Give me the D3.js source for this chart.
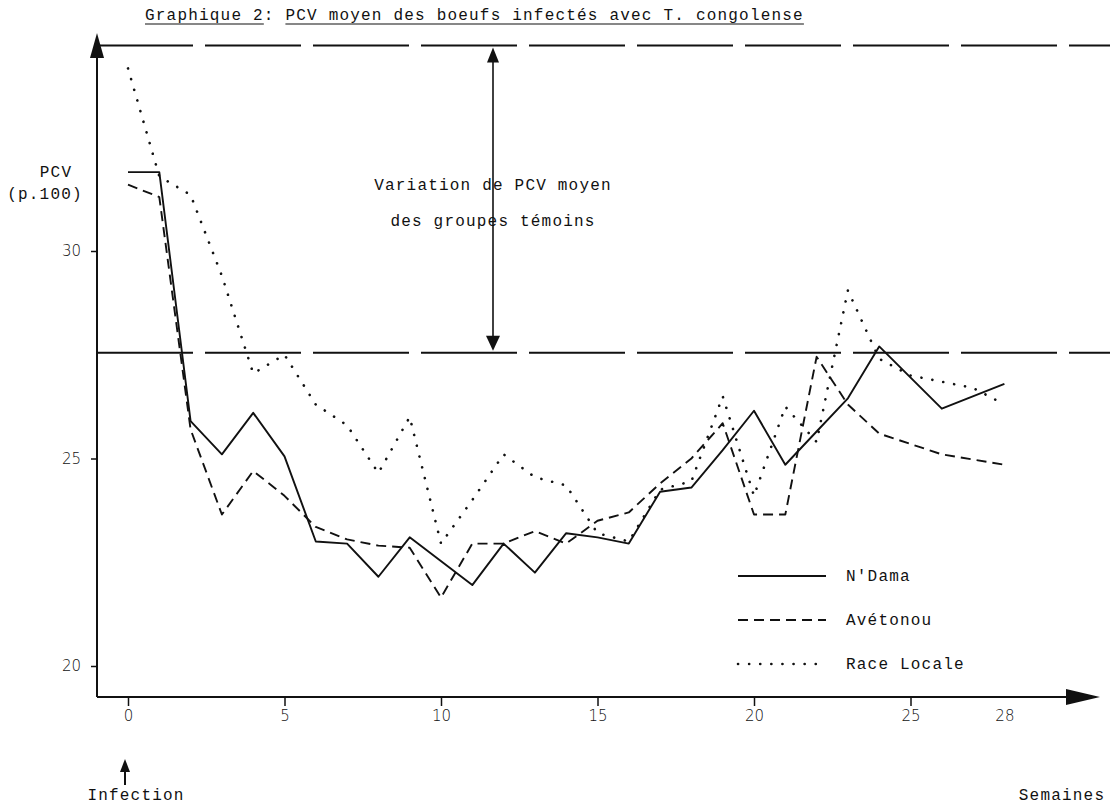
<!DOCTYPE html>
<html>
<head>
<meta charset="utf-8">
<script src="https://cdn.jsdelivr.net/npm/d3@7"></script>
<style>
  body { margin: 0; background: #fff; }
  text { fill: #111; }
  .mono { font-family: "Liberation Mono", "DejaVu Sans Mono", monospace; font-size: 16px; letter-spacing: 1.2px; }
  .num { font-family: "DejaVu Sans", sans-serif; font-size: 15px; font-weight: 300; }
</style>
</head>
<body>
<div id="chart"></div>
<script>
var width = 1110, height = 807;

// semaines
var weeks = [0, 1, 2, 3, 4, 5, 6, 7, 8, 9, 10, 11, 12, 13, 14,
             15, 16, 17, 18, 19, 20, 21, 22, 23, 24, 25, 26, 27, 28];

// PCV moyen (p.100) par groupe, null = pas de point
var nDama      = [31.9, 31.9, 25.9, 25.1, 26.1, 25.05, 23.0, 22.95, 22.15, 23.1, null, 21.95, 22.95, 22.25, 23.2,
                  23.1, 22.95, 24.2, 24.3, 25.2, 26.15, 24.85, 25.65, 26.45, 27.7, null, 26.2, null, 26.8];
var avetonou   = [31.6, 31.3, 25.7, 23.65, 24.7, 24.1, 23.35, 23.05, 22.9, 22.85, 21.65, 22.95, 22.95, 23.25, 22.95,
                  23.5, 23.7, 24.4, 25.0, 25.85, 23.65, 23.65, 27.45, 26.3, 25.6, null, 25.1, null, 24.85];
var raceLocale = [34.4, 31.8, 31.35, 29.4, 27.05, 27.5, 26.3, 25.8, 24.65, 26.0, 22.95, 24.0, 25.1, 24.55, 24.35,
                  23.2, 23.0, 24.25, 24.45, 26.5, 24.1, 26.25, 25.4, 29.05, 27.4, 27.0, 26.85, 26.7, 26.3];

var seriesNames = ["N'Dama", "Avétonou", "Race Locale"];

var xTicks = [0, 5, 10, 15, 20, 25, 28];
var yTicks = [20, 25, 30];

// PCV moyen des groupes témoins (haut et bas de la variation)
var refLevels = [34.95, 27.55];

var svg = d3.select("#chart").append("svg")
    .attr("width", width)
    .attr("height", height);

var x = d3.scaleLinear().domain([0, 28]).range([128, 1004.4]);
var y = d3.scaleLinear().domain([20, 30]).range([666, 251]);

var axisX = 97, axisY = 697;

// axes
svg.append("line")
    .attr("x1", axisX).attr("x2", 1072)
    .attr("y1", axisY).attr("y2", axisY)
    .attr("stroke", "#111").attr("stroke-width", 2);
svg.append("path")
    .attr("d", "M1100," + axisY + "L1066," + (axisY - 8) + "L1066," + (axisY + 8) + "Z")
    .attr("fill", "#111");

svg.append("line")
    .attr("x1", axisX).attr("x2", axisX)
    .attr("y1", axisY).attr("y2", 56)
    .attr("stroke", "#111").attr("stroke-width", 2);
svg.append("path")
    .attr("d", "M" + axisX + ",33L" + (axisX - 7) + ",58L" + (axisX + 7) + ",58Z")
    .attr("fill", "#111");

var yAxis = svg.append("g")
    .attr("transform", "translate(" + axisX + ",0)")
    .call(d3.axisLeft(y).tickValues(yTicks).tickSize(6).tickPadding(10));
yAxis.select(".domain").remove();
yAxis.selectAll("line").attr("stroke", "#111").attr("stroke-width", 1.5);
yAxis.selectAll("text").attr("class", "num").attr("fill", "#111").attr("font-family", null).attr("font-size", null);

var xAxis = svg.append("g")
    .attr("transform", "translate(0," + axisY + ")")
    .call(d3.axisBottom(x).tickValues(xTicks).tickSize(9).tickPadding(4));
xAxis.select(".domain").remove();
xAxis.selectAll("line").attr("stroke", "#111").attr("stroke-width", 1.5)
    .attr("opacity", function(d) { return d === 28 ? 0 : 1; });
xAxis.selectAll("text").attr("class", "num").attr("fill", "#111").attr("font-family", null).attr("font-size", null);

// lignes de reference
svg.selectAll(".ref")
    .data(refLevels)
    .enter().append("line")
    .attr("class", "ref")
    .attr("x1", axisX).attr("x2", width)
    .attr("y1", function(d) { return y(d); })
    .attr("y2", function(d) { return y(d); })
    .attr("stroke", "#111").attr("stroke-width", 2)
    .attr("stroke-dasharray", "96,12");

// double fleche
var ax = 493, yTop = y(refLevels[0]), yBot = y(refLevels[1]);
svg.append("line")
    .attr("x1", ax).attr("x2", ax)
    .attr("y1", yTop + 12).attr("y2", yBot - 12)
    .attr("stroke", "#111").attr("stroke-width", 1.6);
svg.append("path")
    .attr("d", "M" + ax + "," + (yTop + 2) + "L" + (ax - 6) + "," + (yTop + 17) + "L" + (ax + 6) + "," + (yTop + 17) + "Z")
    .attr("fill", "#111");
svg.append("path")
    .attr("d", "M" + ax + "," + (yBot - 2) + "L" + (ax - 7) + "," + (yBot - 17) + "L" + (ax + 7) + "," + (yBot - 17) + "Z")
    .attr("fill", "#111");

svg.append("text").attr("class", "mono")
    .attr("x", ax).attr("y", 190).attr("text-anchor", "middle")
    .text("Variation de PCV moyen");
svg.append("text").attr("class", "mono")
    .attr("x", ax).attr("y", 226).attr("text-anchor", "middle")
    .text("des groupes témoins");

// courbes
var styles = [
    { width: 1.9, dash: null, cap: "butt" },
    { width: 1.9, dash: "10,6", cap: "butt" },
    { width: 2.6, dash: "0.1,11", cap: "round" }
];
var allSeries = [nDama, avetonou, raceLocale];

var line = d3.line()
    .x(function(d) { return x(d[0]); })
    .y(function(d) { return y(d[1]); });

allSeries.forEach(function(values, i) {
    var pts = weeks.map(function(w, j) { return [w, values[j]]; })
                   .filter(function(d) { return d[1] !== null; });
    svg.append("path")
        .datum(pts)
        .attr("d", line)
        .attr("fill", "none")
        .attr("stroke", "#111")
        .attr("stroke-width", styles[i].width)
        .attr("stroke-dasharray", styles[i].dash)
        .attr("stroke-linecap", styles[i].cap)
        .attr("stroke-linejoin", "round");
});

// legende
var legend = svg.append("g").attr("transform", "translate(738,576)");
seriesNames.forEach(function(name, i) {
    var g = legend.append("g").attr("transform", "translate(0," + (i * 44) + ")");
    g.append("line")
        .attr("x1", 0).attr("x2", 88)
        .attr("stroke", "#111")
        .attr("stroke-width", styles[i].width)
        .attr("stroke-dasharray", styles[i].dash)
        .attr("stroke-linecap", styles[i].cap);
    g.append("text").attr("class", "mono")
        .attr("x", 108).attr("y", 5)
        .text(name);
});

// titres d'axes
svg.append("text").attr("class", "mono")
    .attr("x", 56).attr("y", 177).attr("text-anchor", "middle").text("PCV");
svg.append("text").attr("class", "mono")
    .attr("x", 45).attr("y", 199).attr("text-anchor", "middle").text("(p.100)");
svg.append("text").attr("class", "mono")
    .attr("x", 1062).attr("y", 800).attr("text-anchor", "middle").text("Semaines");
svg.append("text").attr("class", "mono")
    .attr("x", 136).attr("y", 800).attr("text-anchor", "middle").text("Infection");

// fleche "Infection"
svg.append("line")
    .attr("x1", x(0) - 3).attr("x2", x(0) - 3)
    .attr("y1", 785).attr("y2", 768)
    .attr("stroke", "#111").attr("stroke-width", 2);
svg.append("path")
    .attr("d", "M" + (x(0) - 3) + ",759L" + (x(0) - 8) + ",772L" + (x(0) + 2) + ",772Z")
    .attr("fill", "#111");

// titre souligne
var title = svg.append("text").attr("class", "mono")
    .attr("x", 145).attr("y", 20)
    .text("Graphique 2: PCV moyen des boeufs infectés avec T. congolense");
var titleNode = title.node();
var str = titleNode.textContent;
[[0, 11], [13, str.length]].forEach(function(r) {
    var x0 = titleNode.getStartPositionOfChar(r[0]).x;
    var x1 = titleNode.getEndPositionOfChar(r[1] - 1).x;
    svg.append("line")
        .attr("x1", x0).attr("x2", x1)
        .attr("y1", 24).attr("y2", 24)
        .attr("stroke", "#111").attr("stroke-width", 1.2);
});
</script>
</body>
</html>
